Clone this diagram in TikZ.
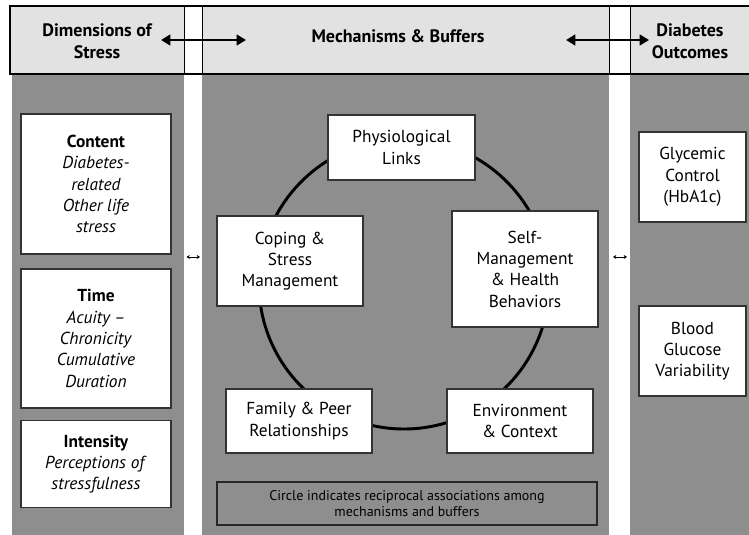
\documentclass[tikz,border=0pt]{standalone}
\usepackage{fontspec}
\setmainfont{PT Sans}
\usetikzlibrary{arrows.meta}
\definecolor{colgray}{HTML}{8E8E8E}
\definecolor{headgray}{HTML}{E2E2E2}
\tikzset{
  card/.style={draw=black!80,fill=white,line width=0.8pt,align=center,inner sep=0pt,
    font=\fontsize{13}{16}\selectfont},
  headtext/.style={align=center,font=\bfseries\fontsize{13.5}{16.5}\selectfont},
  bigarrow/.style={{Triangle[length=7pt,width=8pt]}-{Triangle[length=7pt,width=8pt]},line width=2pt},
  smallarrow/.style={{Stealth[length=2.5pt,width=3pt]}-{Stealth[length=2.5pt,width=3pt]},line width=0.6pt}
}
\begin{document}
\begin{tikzpicture}[x=0.75pt,y=-0.75pt]
                \clip (0,0) rectangle (749,535);
                \fill[white] (0,0) rectangle (749,535);
                % columns
                \fill[colgray] (12,74) rectangle (184,535);
                \fill[colgray] (202,74) rectangle (609,535);
                \fill[colgray] (630,74) rectangle (749,535);
                % header
                \fill[headgray] (10,6) rectangle (184,74);
                \fill[headgray] (202,6) rectangle (609,74);
                \fill[headgray] (630,6) rectangle (752,74);
                \draw[line width=0.6pt] (184,6)--(184,74) (202,6)--(202,74) (609,6)--(609,74) (630,6)--(630,74);
                \draw[line width=2.2pt] (10,6) rectangle (752,74);
                \node[headtext] (dimhead) at (97,41) {Dimensions of\\Stress};
                \node[headtext] (mechhead) at (398,36) {Mechanisms \& Buffers};
                \node[headtext] (outhead) at (690,41) {Diabetes\\Outcomes};
                \coordinate (hl1) at (161,40);
                \coordinate (hl2) at (246,40);
                \coordinate (hr1) at (566,40);
                \coordinate (hr2) at (649,40);
                \draw[bigarrow] (hl1)--(hl2);
                \draw[bigarrow] (hr1)--(hr2);
                % circle
                \draw[line width=2.2pt] (404,284) circle[radius=145];
                % stress boxes
                \node[card,minimum width=112.5pt,minimum height=105pt] (content) at (96,184)
                    {\textbf{Content}\\\textit{Diabetes-}\\\textit{related}\\\textit{Other life}\\\textit{stress}};
                \node[card,minimum width=112.5pt,minimum height=104.25pt] (time) at (96,338.5)
                    {\textbf{Time}\\\textit{Acuity –}\\\textit{Chronicity}\\\textit{Cumulative}\\\textit{Duration}};
                \node[card,minimum width=112.5pt,minimum height=65.25pt] (intensity) at (96,464)
                    {\textbf{Intensity}\\\textit{Perceptions of}\\\textit{stressfulness}};
                % mechanisms
                \node[card,minimum width=110.25pt,minimum height=48.75pt] (physio) at (401.5,147.5) {Physiological\\Links};
                \node[card,minimum width=109.5pt,minimum height=67.5pt] (coping) at (290,261) {Coping \&\\Stress\\Management};
                \node[card,minimum width=109.5pt,minimum height=87pt] (selfmgmt) at (525,269) {Self-\\Management\\\& Health\\Behaviors};
                \node[card,minimum width=109.5pt,minimum height=48pt] (family) at (299,421) {Family \& Peer\\Relationships};
                \node[card,minimum width=109.5pt,minimum height=48pt] (environ) at (520,421) {Environment\\\& Context};
                \node[draw=black!85,line width=0.8pt,minimum width=285pt,minimum height=32.25pt,align=center,inner sep=0pt,
                    font=\fontsize{10.5}{12.5}\selectfont] (note) at (407,503.5)
                    {Circle indicates reciprocal associations among\\mechanisms and buffers};
                % outcomes
                \node[card,minimum width=80.25pt,minimum height=67.5pt] (glycemic) at (692.5,177) {Glycemic\\Control\\(HbA1c)};
                \node[card,minimum width=80.25pt,minimum height=67.5pt] (bloodglu) at (692.5,351) {Blood\\Glucose\\Variability};
                \coordinate (sl1) at (186.5,257);
                \coordinate (sl2) at (200,257);
                \coordinate (sr1) at (613,257);
                \coordinate (sr2) at (627,257);
                \draw[smallarrow] (sl1)--(sl2);
                \draw[smallarrow] (sr1)--(sr2);
            \end{tikzpicture}
\end{document}
